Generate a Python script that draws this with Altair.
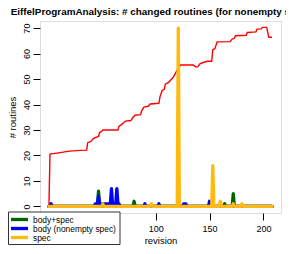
import altair as alt
import pandas as pd

# ---- data ----
red_rev = [1, 2, 10, 20, 30, 36, 37, 40, 42, 44, 47, 48, 50, 51, 65, 66, 68, 72, 77,
           79, 81, 86, 87, 89, 93, 95, 103, 104, 106, 108, 109, 112, 114, 116, 118,
           120, 123, 135, 137, 139, 141, 144, 148, 152, 153, 155, 157, 169, 171,
           173, 174, 184, 185, 193, 194, 198, 199, 203, 205, 208]
red_val = [0, 20.5, 21, 21.7, 22, 22.1, 25, 25.5, 26.5, 27, 27.5, 29, 29.5, 30, 30,
           31.5, 32, 33.5, 33.7, 35, 35.8, 36, 37.5, 39, 39.3, 40.2, 40.5, 43, 45.5,
           46, 48, 48.7, 49.6, 50.5, 52, 53.5, 55.5, 55.5, 54.8, 54.8, 56, 56.5, 57,
           57, 61.5, 62, 64.6, 64.7, 65.7, 66, 67, 67.2, 68.3, 68.5, 69.6, 69.7, 70.3,
           70.3, 66.4, 66.4]

green_rev = [1, 46, 47, 48, 79, 80, 81, 163, 164, 165, 171, 172, 173, 208]
green_val = [0, 0, 6, 0, 0, 2, 0, 0, 1, 0, 0, 5, 0, 0]

blue_rev = [1, 2, 3, 4, 43, 44, 46, 47, 48, 58, 59, 60, 63, 64, 65, 66, 67, 89, 90,
            91, 102, 103, 104, 125, 126, 128, 129, 149, 150, 151, 208]
blue_val = [0, 0, 1, 0, 0, 1, 1, 4, 1, 1, 7, 1, 1, 7, 1, 1, 0, 0, 1,
            0, 0, 1, 0, 0, 1, 1, 0, 0, 2, 0, 0]

orange_rev = [1, 50, 51, 52, 95, 96, 97, 120, 121, 122, 152, 153, 154, 159, 160,
              161, 171, 172, 173, 179, 180, 181, 208]
orange_val = [0, 0, 1, 0, 0, 1, 0, 0, 70, 0, 0, 16, 0, 0, 2,
              0, 0, 1, 0, 0, 1, 0, 0]

series_names = ["body+spec", "body (nonempty spec)", "spec"]
series_colors = ["#006400", "#0000FF", "#FFB90F"]
x_ticks = [0, 50, 100, 150, 200]
y_ticks = [0, 10, 20, 30, 40, 50, 60, 70]

FONT = "Liberation Sans"

df_red = pd.DataFrame({"revision": red_rev, "n": red_val})
df_green = pd.DataFrame({"revision": green_rev, "n": green_val, "series": series_names[0]})
df_blue = pd.DataFrame({"revision": blue_rev, "n": blue_val, "series": series_names[1]})
df_orange = pd.DataFrame({"revision": orange_rev, "n": orange_val, "series": series_names[2]})

x_enc = alt.X("revision:Q",
              scale=alt.Scale(domain=[-7.28, 216.28], nice=False, zero=False),
              axis=alt.Axis(values=x_ticks, title="revision", grid=False, domain=False,
                            tickSize=7, tickColor="black", labelFontSize=9,
                            labelColor="black", labelFont=FONT, labelBaseline="alphabetic",
                            labelPadding=11.5, labelFlush=False, labelAlign="center",
                            titleFont=FONT, titleFontSize=9.5, titleFontWeight="normal",
                            titleColor="black", titleBaseline="alphabetic", titleY=30.5))
y_enc = alt.Y("n:Q",
              scale=alt.Scale(domain=[-2.6, 72.8], nice=False, zero=False),
              axis=alt.Axis(values=y_ticks, title="# routines", grid=False, domain=False,
                            tickSize=7, tickColor="black", labelFontSize=9,
                            labelColor="black", labelFont=FONT, labelAngle=270,
                            labelAlign="center", labelBaseline="alphabetic",
                            labelPadding=3.5, labelFlush=False,
                            titleFont=FONT, titleFontSize=9.5, titleFontWeight="normal",
                            titleColor="black", titleAngle=270, titleAlign="center",
                            titleBaseline="alphabetic", titleX=-25, titleY=96))

color_enc = alt.Color("series:N",
                      scale=alt.Scale(domain=series_names, range=series_colors),
                      legend=None)

red = alt.Chart(df_red).mark_line(color="#FF0000", strokeWidth=1.4).encode(x=x_enc, y=y_enc)


def spikes(df):
    return alt.Chart(df).mark_line(strokeWidth=3.3, strokeCap="round",
                                   strokeJoin="round").encode(x=x_enc, y=y_enc,
                                                              color=color_enc)


# ---- legend box (bottom-left, drawn over the x axis like R's legend) ----
legend_box = alt.Chart(pd.DataFrame({"k": [0]})).mark_rect(
    fill="white", stroke="#333333", strokeWidth=1
).encode(x=alt.value(-31.5), x2=alt.value(80), y=alt.value(191), y2=alt.value(223.5))

legend_layers = [legend_box]
row_y = [198.5, 207.5, 216.5]
for name, col, yy in zip(series_names, series_colors, row_y):
    dfl = pd.DataFrame({"label": [name]})
    legend_layers.append(
        alt.Chart(dfl).mark_rule(color=col, strokeWidth=3.3, strokeCap="butt").encode(
            x=alt.value(-29), x2=alt.value(-12), y=alt.value(yy)))
    legend_layers.append(
        alt.Chart(dfl).mark_text(align="left", baseline="middle", font=FONT,
                                 fontSize=8.4, color="black").encode(
            x=alt.value(-7), y=alt.value(yy), text="label:N"))

chart = alt.layer(red, spikes(df_green), spikes(df_blue), spikes(df_orange),
                  *legend_layers).properties(
    width=241, height=192,
    title=alt.TitleParams("EiffelProgramAnalysis: # changed routines (for nonempty spec)",
                          font=FONT, fontSize=9.9, fontWeight="bold", anchor="middle",
                          frame="group", baseline="alphabetic", offset=6.5, dy=10.5,
                          color="black"),
    autosize=alt.AutoSizeParams(type="none"),
    padding={"left": 32, "top": 13, "right": 5, "bottom": 32},
).configure_view(stroke="black", strokeWidth=1).configure(background="white")

chart.save("out.html", embed_options={"renderer": "svg", "actions": False})
